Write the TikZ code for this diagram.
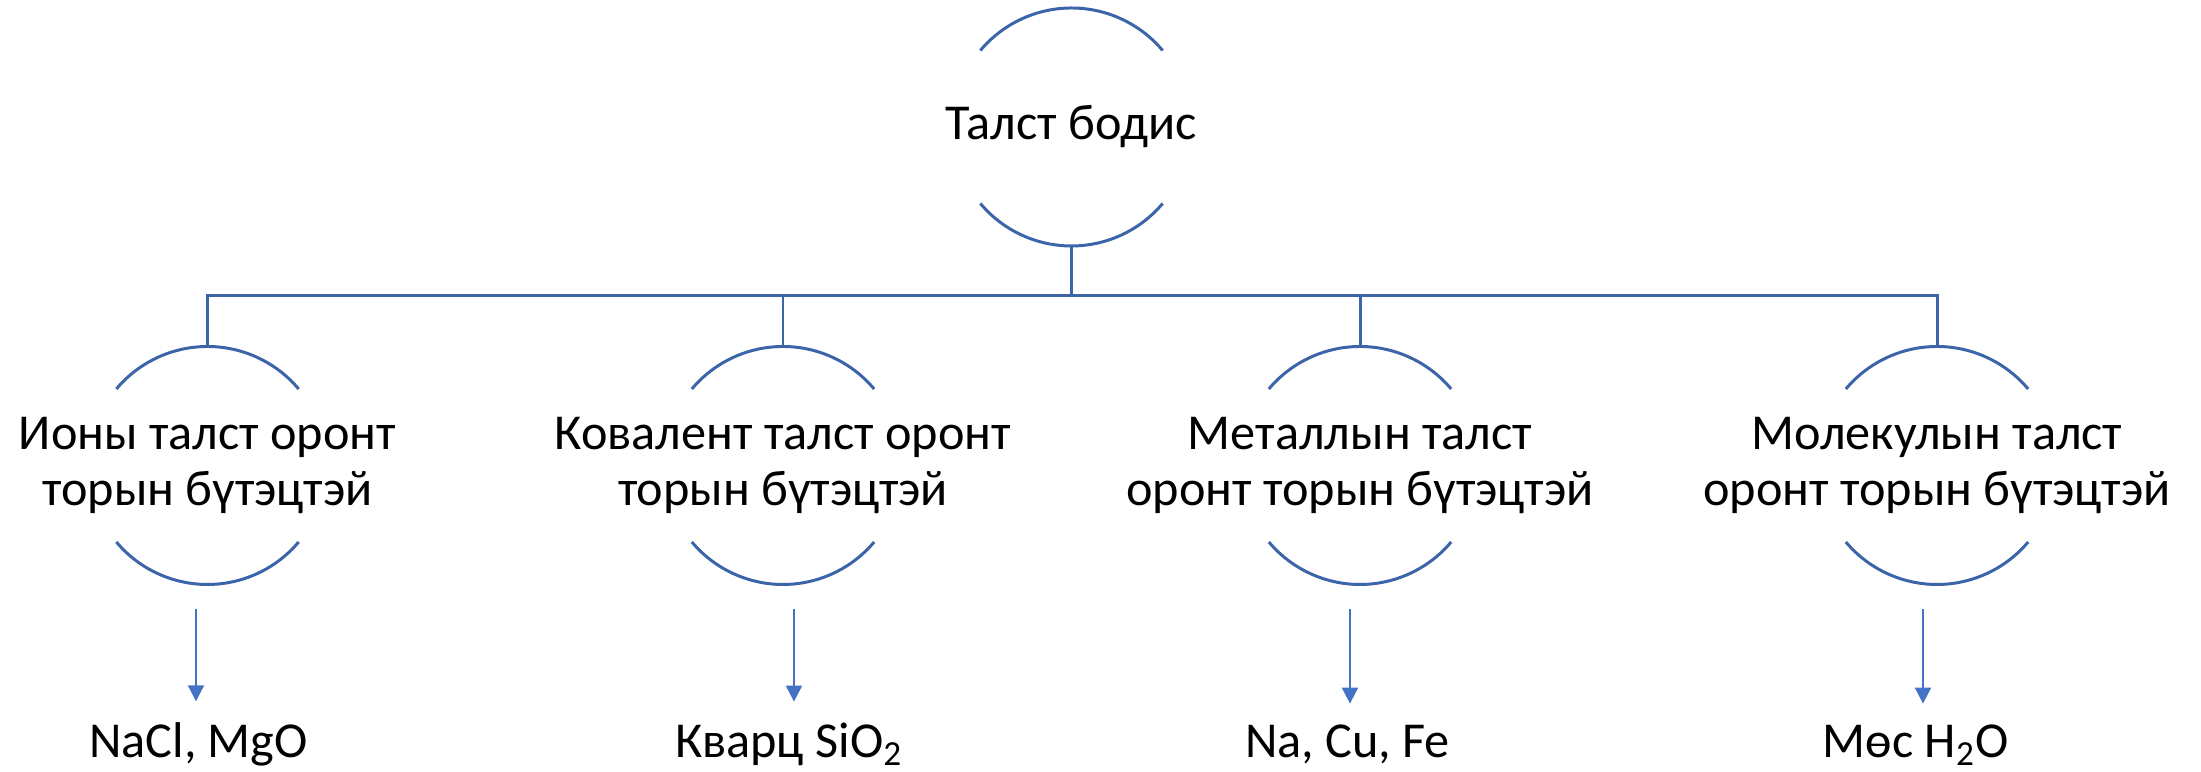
\documentclass[tikz,border=0pt]{standalone}
\usepackage{fontspec}
\setmainfont{Carlito}
\usetikzlibrary{arrows.meta, positioning}
\definecolor{TreeBlue}{HTML}{3C64A8}
\definecolor{ArrowBlue}{HTML}{4472C4}
\tikzset{
    ring/.style={
        circle,
        minimum size=2.38cm,
        inner sep=0pt,
        outer sep=0pt
    },
    crystal/.style={
        font=\fontsize{14.3}{16}\selectfont,
        align=center,
        inner sep=0pt
    },
    example/.style={
        font=\fontsize{14.3}{16}\selectfont,
        anchor=base,
        inner sep=6pt
    },
    rim/.style={
        draw=TreeBlue,
        line width=0.85pt
    },
    branch/.style={
        draw=TreeBlue,
        line width=0.85pt
    },
    arrow/.style={
        -{Triangle[width=0.16cm, length=0.16cm]},
        line width=0.6pt,
        ArrowBlue
    }
}

\begin{document}
\begin{tikzpicture}
    \useasboundingbox (0,0) rectangle (22.01,-7.72);

    % Top node
    \node[ring] (root) at (10.715,-1.27) {};
    \node[crystal] (root-t) at (root) {Талст бодис};
    \draw[rim] (root.40) arc[start angle=40, end angle=140, radius=1.19cm];
    \draw[rim] (root.220) arc[start angle=220, end angle=320, radius=1.19cm];

    % Crystal types
    \node[ring] (ion) at (2.075,-4.655) {};
    \node[crystal] (ion-t) at (ion) {Ионы талст оронт\\торын бүтэцтэй};
    \draw[rim] (ion.40) arc[start angle=40, end angle=140, radius=1.19cm];
    \draw[rim] (ion.220) arc[start angle=220, end angle=320, radius=1.19cm];

    \node[ring] (cov) at (7.83,-4.655) {};
    \node[crystal] (cov-t) at (cov) {Ковалент талст оронт\\торын бүтэцтэй};
    \draw[rim] (cov.40) arc[start angle=40, end angle=140, radius=1.19cm];
    \draw[rim] (cov.220) arc[start angle=220, end angle=320, radius=1.19cm];

    \node[ring] (met) at (13.60,-4.655) {};
    \node[crystal] (met-t) at (met) {Металлын талст\\оронт торын бүтэцтэй};
    \draw[rim] (met.40) arc[start angle=40, end angle=140, radius=1.19cm];
    \draw[rim] (met.220) arc[start angle=220, end angle=320, radius=1.19cm];

    \node[ring] (mol) at (19.37,-4.655) {};
    \node[crystal] (mol-t) at (mol) {Молекулын талст\\оронт торын бүтэцтэй};
    \draw[rim] (mol.40) arc[start angle=40, end angle=140, radius=1.19cm];
    \draw[rim] (mol.220) arc[start angle=220, end angle=320, radius=1.19cm];

    % Tree lines
    \coordinate (bus) at (10.715,-2.96);
    \draw[branch] (root.south) -- (bus);
    \draw[branch] (bus) -| (ion.north);
    \draw[branch] (bus) -| (cov.north);
    \draw[branch] (bus) -| (met.north);
    \draw[branch] (bus) -| (mol.north);

    % Examples
    \node[example] (ion-ex) at (1.985,-7.58) {NaCl, MgO};
    \node[example] (cov-ex) at (7.89,-7.58) {Кварц SiO\textsubscript{2}};
    \node[example] (met-ex) at (13.475,-7.58) {Na, Cu, Fe};
    \node[example] (mol-ex) at (19.16,-7.58) {Мөс H\textsubscript{2}O};

    \coordinate (ion-a) at (1.96,-6.09);
    \coordinate (cov-a) at (7.94,-6.09);
    \coordinate (met-a) at (13.50,-6.09);
    \coordinate (mol-a) at (19.23,-6.09);
    \draw[arrow] (ion-a) -- (ion-a |- ion-ex.north);
    \draw[arrow] (cov-a) -- (cov-a |- cov-ex.north);
    \draw[arrow] (met-a) -- (met-a |- met-ex.north);
    \draw[arrow] (mol-a) -- (mol-a |- mol-ex.north);
\end{tikzpicture}
\end{document}
